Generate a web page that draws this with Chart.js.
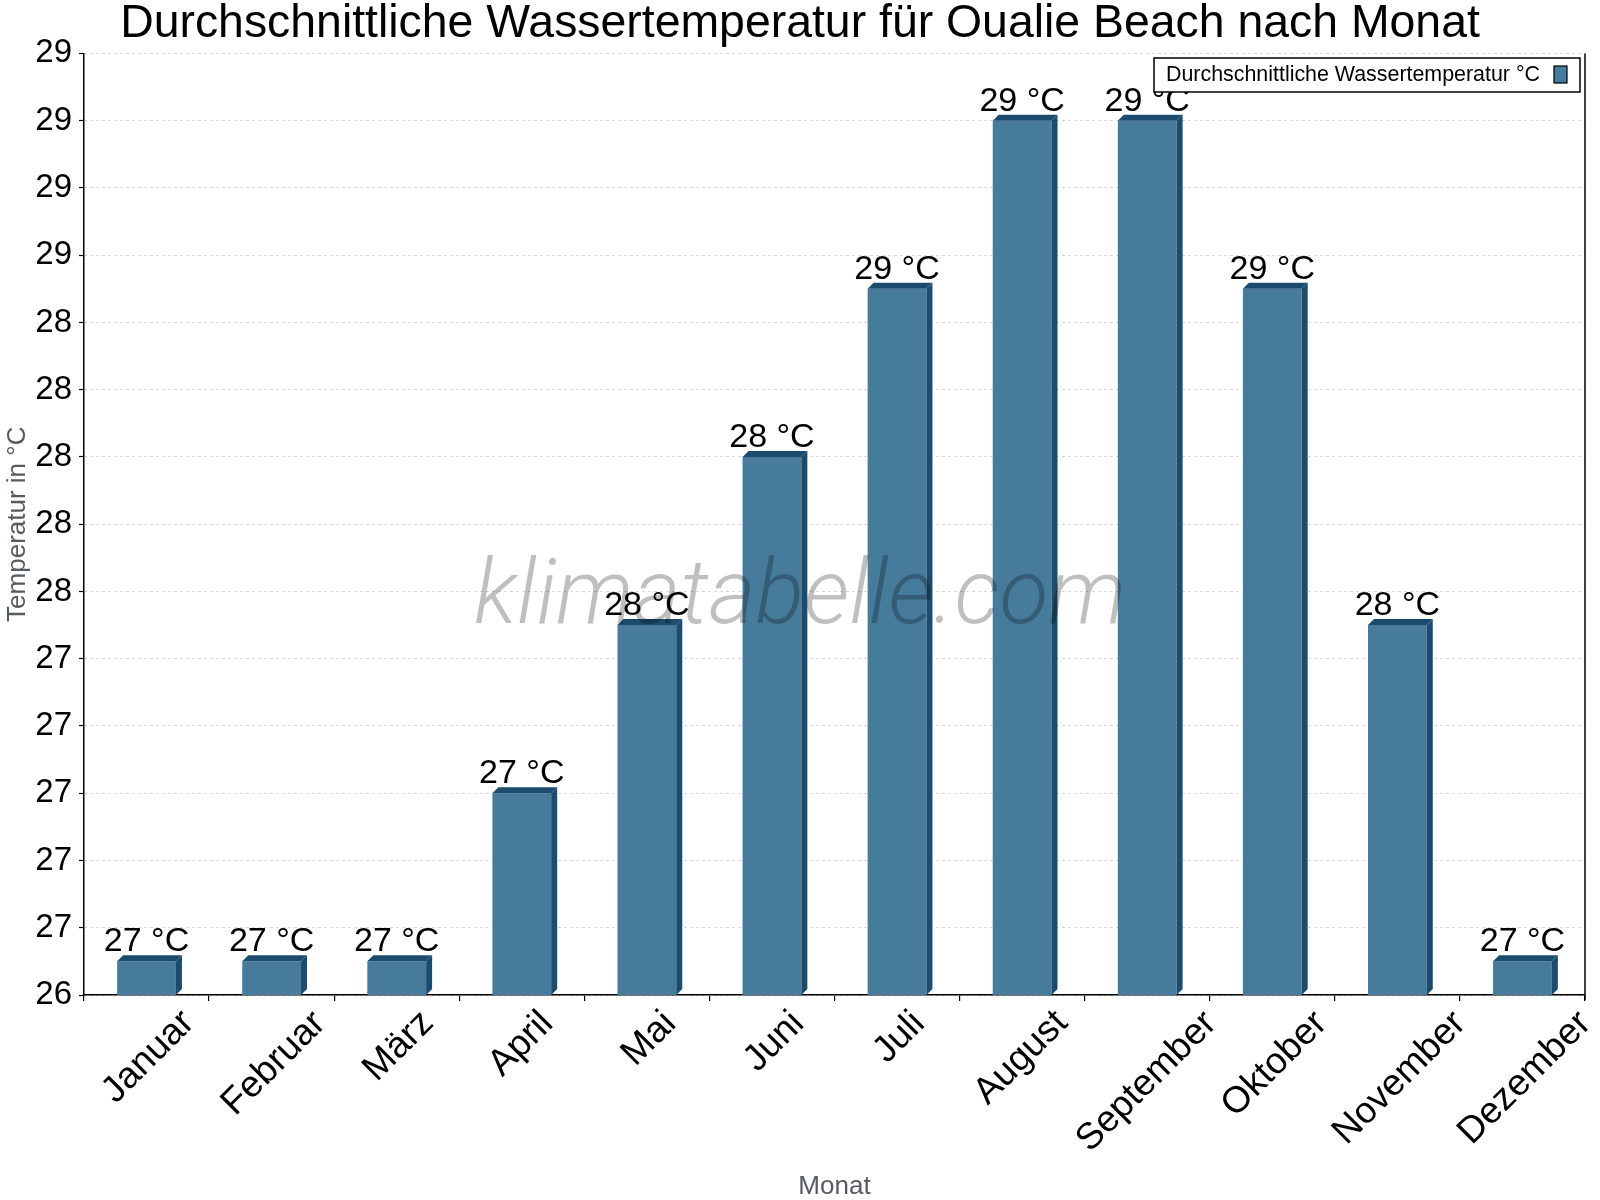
<!DOCTYPE html>
<html>
<head>
<meta charset="utf-8">
<script src="https://cdn.jsdelivr.net/npm/chart.js@4.4.1/dist/chart.umd.min.js"></script>
<style>
html, body { margin: 0; padding: 0; background: #fff; }
#wrap { width: 1600px; height: 1200px; position: relative; }
</style>
</head>
<body>
<div id="wrap"><canvas id="chart"></canvas></div>
<script>
// Data
const months = ['Januar', 'Februar', 'März', 'April', 'Mai', 'Juni', 'Juli',
                'August', 'September', 'Oktober', 'November', 'Dezember'];
const waterTemp = [26.5, 26.5, 26.5, 27, 27.5, 28, 28.5, 29, 29, 28.5, 27.5, 26.5];
const yMin = 26.4;
const yMax = 29.2;
const yStep = 0.2;
const seriesLabel = 'Durchschnittliche Wassertemperatur °C';
const titleText = 'Durchschnittliche Wassertemperatur für Oualie Beach nach Monat';

const barColor = '#467b9c';
const barDark = '#1b4c6d';
const FONT = '"Liberation Sans", Arial, Helvetica, sans-serif';

// Extra drawing: 3D edges, watermark, value labels, x labels, legend box
const decorations = {
  id: 'decorations',
  afterDatasetsDraw(chart) {
    const ctx = chart.ctx;
    const area = chart.chartArea;
    const meta = chart.getDatasetMeta(0);
    const d = 6;

    ctx.save();
    ctx.fillStyle = barDark;
    meta.data.forEach(bar => {
      const p = bar.getProps(['x', 'y', 'base', 'width'], true);
      const l = p.x - p.width / 2, r = p.x + p.width / 2;
      const base = Math.min(p.base, area.bottom);
      // top face
      ctx.beginPath();
      ctx.moveTo(l, p.y);
      ctx.lineTo(l + d, p.y - d);
      ctx.lineTo(r + d, p.y - d);
      ctx.lineTo(r, p.y);
      ctx.closePath();
      ctx.fill();
      // right side
      ctx.beginPath();
      ctx.moveTo(r, p.y);
      ctx.lineTo(r + d, p.y - d);
      ctx.lineTo(r + d, base - d);
      ctx.lineTo(r, base);
      ctx.closePath();
      ctx.fill();
    });

    // watermark
    ctx.font = 'italic 300 100px Roboto, "Open Sans", sans-serif';
    const wm = 'klimatabelle.com';
    const size = 100 * 652 / ctx.measureText(wm).width;
    ctx.font = 'italic 300 ' + size.toFixed(1) + 'px Roboto, "Open Sans", sans-serif';
    ctx.fillStyle = 'rgba(0,0,0,0.25)';
    ctx.textAlign = 'center';
    ctx.textBaseline = 'middle';
    ctx.fillText(wm, 800, 600);

    // value labels
    ctx.font = '34px ' + FONT;
    ctx.fillStyle = '#000';
    ctx.textAlign = 'center';
    ctx.textBaseline = 'alphabetic';
    meta.data.forEach((bar, i) => {
      const p = bar.getProps(['x', 'y'], true);
      ctx.fillText(Math.round(waterTemp[i]) + ' °C', p.x, p.y - 10);
    });

    // right frame line
    ctx.strokeStyle = '#000';
    ctx.lineWidth = 1.5;
    ctx.beginPath();
    ctx.moveTo(area.right, area.top);
    ctx.lineTo(area.right, area.bottom + 5);
    ctx.stroke();

    // x tick labels, rotated 45deg, bounding box centred under each category
    const xs = chart.scales.x;
    ctx.font = '37px ' + FONT;
    ctx.textAlign = 'right';
    ctx.textBaseline = 'alphabetic';
    const c = Math.SQRT1_2;
    months.forEach((m, i) => {
      const tm = ctx.measureText(m);
      const w = tm.width, a = tm.actualBoundingBoxAscent, ds = tm.actualBoundingBoxDescent;
      const ax = xs.getPixelForTick(i) + c * (w + a - ds) / 2;
      const ay = area.bottom + 11 + c * a;
      ctx.save();
      ctx.translate(ax, ay);
      ctx.rotate(-Math.PI / 4);
      ctx.fillText(m, 0, 0);
      ctx.restore();
    });

    // legend box
    ctx.fillStyle = '#fff';
    ctx.fillRect(1154, 58, 426, 34);
    ctx.strokeStyle = '#000';
    ctx.lineWidth = 1.5;
    ctx.strokeRect(1154, 58, 426, 34);
    ctx.font = '21.4px ' + FONT;
    ctx.fillStyle = '#000';
    ctx.textAlign = 'left';
    ctx.textBaseline = 'middle';
    ctx.fillText(chart.data.datasets[0].label, 1166, 75);
    ctx.fillStyle = barColor;
    ctx.fillRect(1554, 66, 13, 17);
    ctx.lineWidth = 1.2;
    ctx.strokeRect(1554, 66, 13, 17);
    ctx.restore();
  }
};

new Chart(document.getElementById('chart'), {
  type: 'bar',
  data: {
    labels: months,
    datasets: [{
      label: seriesLabel,
      data: waterTemp,
      backgroundColor: barColor,
      borderWidth: 0,
      categoryPercentage: 0.47,
      barPercentage: 1.0
    }]
  },
  options: {
    responsive: true,
    maintainAspectRatio: false,
    devicePixelRatio: 1,
    animation: false,
    events: [],
    layout: { padding: 0 },
    plugins: {
      legend: { display: false },
      tooltip: { enabled: false },
      title: {
        display: true,
        text: titleText,
        color: '#000',
        font: { family: FONT, size: 46.4, weight: 'normal', lineHeight: 1.0 },
        padding: { top: 1, bottom: 6 }
      }
    },
    scales: {
      x: {
        offset: true,
        grid: {
          display: true,
          offset: true,
          drawOnChartArea: false,
          drawTicks: true,
          tickLength: 6,
          color: '#000',
          lineWidth: 1.2
        },
        border: { display: true, color: '#000', width: 1.5 },
        ticks: { display: false },
        title: {
          display: true,
          text: 'Monat',
          color: '#555b61',
          font: { family: FONT, size: 26, lineHeight: 1.0 },
          padding: { top: 0, bottom: 0 }
        },
        afterFit(scale) {
          scale.height = 205;
          scale.paddingLeft = 0;
          scale.paddingRight = 0;
        }
      },
      y: {
        min: yMin,
        max: yMax,
        grid: {
          color: '#c8c8c8',
          lineWidth: 1,
          tickColor: '#000',
          tickLength: 5,
          tickWidth: 1.2
        },
        border: { display: true, color: '#000', width: 1.5, dash: [2, 4] },
        ticks: {
          stepSize: yStep,
          color: '#000',
          padding: 7,
          font: { family: FONT, size: 33 },
          callback: v => Math.round(v)
        },
        title: {
          display: true,
          text: 'Temperatur in °C',
          color: '#555b61',
          font: { family: FONT, size: 26, lineHeight: 1.2 },
          padding: { top: 2, bottom: 0 }
        },
        afterFit(scale) {
          scale.width = 84;
          scale.paddingTop = 0;
          scale.paddingBottom = 0;
        }
      },
      // empty strip on the right so the title stays centred on the page
      yRight: {
        position: 'right',
        grid: { display: false },
        border: { display: false },
        ticks: { display: false },
        afterFit(scale) {
          scale.width = 15;
          scale.paddingTop = 0;
          scale.paddingBottom = 0;
        }
      }
    }
  },
  plugins: [decorations]
});
</script>
</body>
</html>
